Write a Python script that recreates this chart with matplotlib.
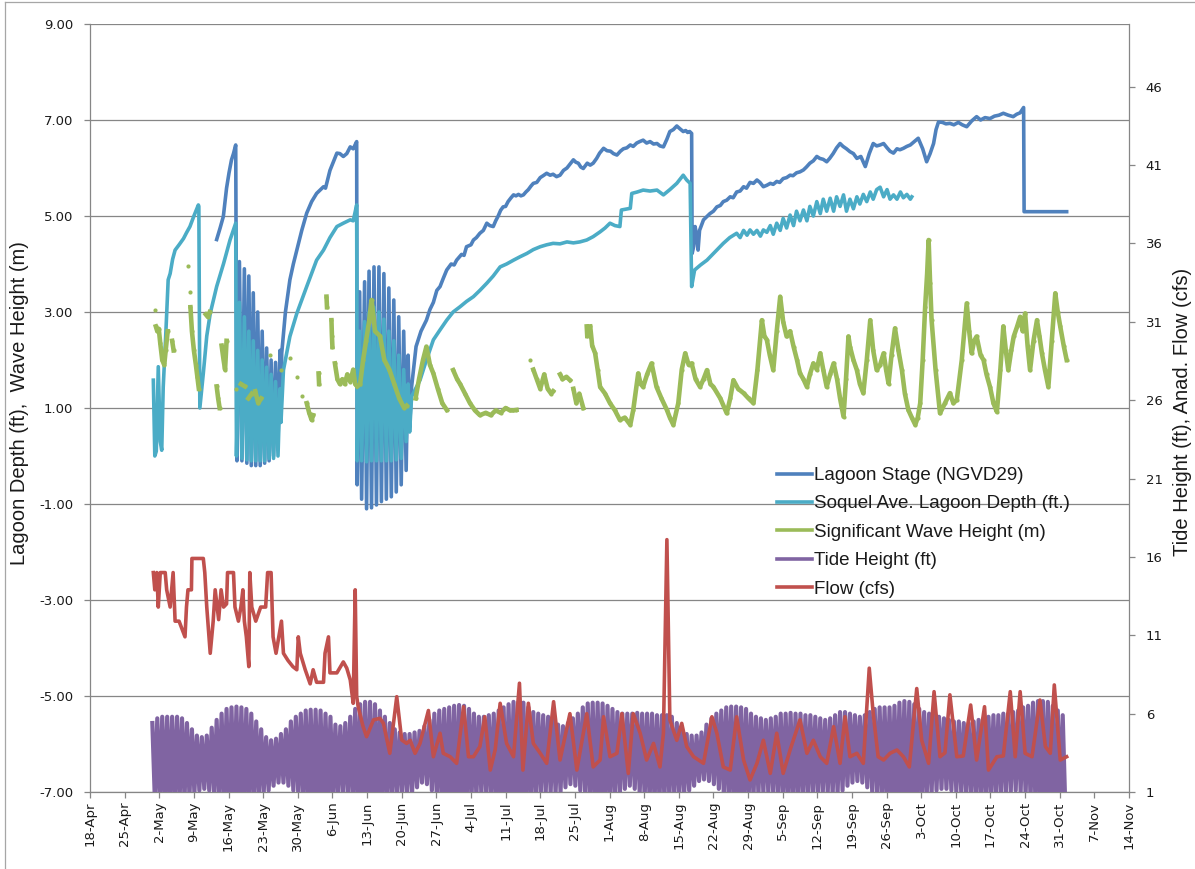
import numpy as np
import matplotlib
matplotlib.use("Agg")
import matplotlib.pyplot as plt
import matplotlib.dates as mdates
from matplotlib.ticker import FixedLocator, FuncFormatter
from matplotlib.lines import Line2D

# ---------------------------------------------------------------------------
# Data (times are days after START)
# ---------------------------------------------------------------------------
START = "2015-04-18"
AXIS_DAYS = 210

# Lagoon stage, ft NGVD29
stage_pts = [
    (25.6, 4.51), (26.3, 4.75), (26.95, 4.99), (27.6, 5.58), (28.1, 5.9), (28.6, 6.17),
    (29.0, 6.3), (29.45, 6.48),
    (29.7, -0.1), (30.2, 4.05), (30.7, -0.1), (31.2, 3.9), (31.7, -0.15), (32.1, 3.75),
    (32.6, -0.2), (33.0, 3.4), (33.5, -0.2), (33.9, 3.0), (34.4, -0.2), (34.8, 2.6),
    (35.3, -0.15), (35.7, 2.25), (36.2, -0.1), (36.6, 2.0), (37.1, 0.0), (37.5, 1.95),
    (38.0, 0.3), (38.4, 2.2), (38.6, 1.0),
    (38.75, 2.14), (39.5, 3.0), (40.4, 3.67), (41.1, 4.0), (41.8, 4.29), (42.8, 4.7),
    (43.8, 5.06), (44.8, 5.3), (45.8, 5.47), (47.2, 5.61), (47.6, 5.58), (48.5, 5.95),
    (49.9, 6.31), (50.5, 6.3), (51.2, 6.24), (51.9, 6.3), (52.6, 6.44), (53.2, 6.4),
    (53.9, 6.55),
    (54.0, -0.6), (54.5, 3.42), (54.9, -0.9), (55.5, 3.63), (55.9, -1.1), (56.4, 3.85),
    (56.9, -1.08), (57.4, 3.94), (57.9, -1.02), (58.4, 3.94), (58.9, -0.95), (59.4, 3.8),
    (59.9, -0.9), (60.4, 3.5), (60.9, -0.85), (61.4, 3.25), (61.9, -0.75), (62.4, 2.9),
    (62.9, -0.6), (63.4, 2.6), (63.9, -0.3), (64.3, 2.1), (64.6, 0.6),
    (65.0, 1.44), (65.9, 2.28), (66.9, 2.6), (68.0, 2.83), (68.7, 3.05), (69.4, 3.2),
    (70.1, 3.45), (70.75, 3.53), (71.4, 3.7), (72.1, 3.875), (73.0, 4.0), (73.6, 3.98),
    (74.1, 4.08), (75.1, 4.2), (75.6, 4.18), (76.1, 4.36), (77.0, 4.4), (77.5, 4.5),
    (78.1, 4.55), (78.8, 4.64), (79.5, 4.7), (80.2, 4.85), (80.8, 4.8), (81.5, 4.78),
    (82.0, 4.9), (82.5, 5.0), (83.0, 5.12), (83.5, 5.19), (84.0, 5.2), (84.5, 5.3),
    (85.1, 5.38), (85.6, 5.44), (86.1, 5.42), (86.6, 5.45), (87.1, 5.42), (87.6, 5.44),
    (88.1, 5.5), (88.6, 5.55), (89.1, 5.62), (89.6, 5.68), (90.3, 5.7), (91.0, 5.8),
    (91.6, 5.84), (92.3, 5.89), (93.0, 5.85), (93.6, 5.87), (94.3, 5.82), (95.0, 5.85),
    (95.7, 5.95), (96.4, 6.0), (97.0, 6.08), (97.7, 6.17), (98.2, 6.12), (98.7, 6.1),
    (99.2, 6.02), (99.7, 5.99), (100.5, 6.1), (101.1, 6.06), (101.7, 6.1), (102.4, 6.2),
    (103.0, 6.31), (103.8, 6.41), (104.5, 6.36), (105.2, 6.35), (105.8, 6.3), (106.5, 6.27),
    (107.2, 6.35), (107.8, 6.4), (108.5, 6.42), (109.2, 6.48), (109.8, 6.45), (110.5, 6.52),
    (111.1, 6.55), (111.8, 6.58), (112.5, 6.52), (113.2, 6.55), (113.9, 6.5), (114.6, 6.51),
    (115.2, 6.46), (115.9, 6.44), (116.6, 6.6), (117.2, 6.76), (117.9, 6.8), (118.6, 6.875),
    (119.2, 6.82), (119.9, 6.76), (120.4, 6.78), (120.8, 6.74), (121.2, 6.76), (121.6, 6.72),
    (121.7, 4.22), (122.0, 4.36), (122.3, 4.78), (122.6, 4.6), (122.9, 4.29), (123.2, 4.7),
    (124.0, 4.92), (124.6, 4.98), (125.3, 5.05), (126.0, 5.1), (126.7, 5.19), (127.4, 5.22),
    (128.0, 5.3), (128.7, 5.33), (129.4, 5.4), (130.0, 5.38), (130.7, 5.5), (131.4, 5.52),
    (132.1, 5.61), (132.7, 5.58), (133.4, 5.7), (134.1, 5.68), (134.8, 5.75), (135.4, 5.7),
    (136.1, 5.61), (136.8, 5.64), (137.5, 5.68), (138.1, 5.66), (138.8, 5.72), (139.4, 5.7),
    (140.1, 5.78), (140.8, 5.8), (141.5, 5.85), (142.1, 5.84), (142.8, 5.9), (143.5, 5.92),
    (144.2, 5.96), (144.8, 6.02), (145.5, 6.1), (146.2, 6.15), (146.9, 6.24), (147.5, 6.2),
    (148.2, 6.18), (148.9, 6.13), (149.5, 6.2), (150.2, 6.3), (150.9, 6.42), (151.6, 6.51),
    (152.2, 6.45), (152.9, 6.4), (153.6, 6.34), (154.3, 6.3), (155.0, 6.2), (155.8, 6.24),
    (156.7, 6.03), (157.5, 6.3), (158.3, 6.51), (159.0, 6.46), (159.7, 6.48), (160.4, 6.51),
    (161.1, 6.42), (161.7, 6.35), (162.4, 6.31), (163.1, 6.4), (163.7, 6.38), (164.4, 6.41),
    (165.1, 6.45), (165.8, 6.48), (166.6, 6.55), (167.4, 6.62), (168.3, 6.4), (169.1, 6.13),
    (169.8, 6.3), (170.5, 6.51), (171.0, 6.8), (171.5, 6.96), (172.3, 6.95), (173.0, 6.92),
    (173.8, 6.93), (174.6, 6.9), (175.5, 6.95), (176.3, 6.9), (177.2, 6.86), (178.2, 6.98),
    (179.2, 7.07), (180.0, 7.0), (180.9, 7.05), (181.9, 7.03), (182.8, 7.08), (183.7, 7.1),
    (184.6, 7.14), (185.6, 7.1), (186.6, 7.07), (187.3, 7.12), (188.0, 7.15), (188.7, 7.26),
    (188.8, 5.09), (197.4, 5.09),
]

# Soquel Ave. lagoon depth, ft
soquel_pts = [
    (12.8, 1.58), (13.1, 0.0), (13.4, 0.1), (13.8, 1.86), (14.2, 0.3), (14.5, 0.12),
    (14.8, 1.44), (15.3, 2.5), (15.8, 3.67), (16.2, 3.8), (16.7, 4.1), (17.2, 4.29),
    (18.0, 4.4), (18.9, 4.53), (19.5, 4.65), (20.2, 4.78), (21.0, 5.0), (21.9, 5.23),
    (22.0, 5.2), (22.2, 1.0), (22.9, 1.72), (23.6, 2.5), (24.3, 2.97), (25.6, 3.53),
    (27.0, 4.01), (28.3, 4.5), (29.45, 4.85),
    (29.6, 0.0), (30.2, 3.2), (30.7, -0.05), (31.2, 2.9), (31.7, -0.08), (32.1, 2.6),
    (32.6, -0.1), (33.0, 2.4), (33.5, -0.1), (33.9, 2.2), (34.4, -0.1), (34.8, 2.0),
    (35.3, -0.1), (35.7, 1.85), (36.2, -0.05), (36.6, 1.7), (37.1, -0.05), (37.5, 1.55),
    (38.0, 0.0), (38.4, 1.4), (38.6, 0.7),
    (39.1, 1.79), (40.4, 2.49), (41.8, 2.97), (43.8, 3.53), (45.8, 4.08), (47.2, 4.29),
    (48.5, 4.55), (49.9, 4.78), (51.2, 4.85), (52.6, 4.92), (53.2, 4.9), (53.9, 5.23),
    (54.0, -0.1), (54.5, 2.6), (54.9, -0.1), (55.5, 2.8), (55.9, -0.12), (56.4, 3.0),
    (56.9, -0.1), (57.4, 3.1), (57.9, -0.1), (58.4, 3.0), (58.9, -0.1), (59.4, 2.85),
    (59.9, -0.1), (60.4, 2.6), (60.9, -0.1), (61.4, 2.4), (61.9, -0.08), (62.4, 2.1),
    (62.9, -0.05), (63.4, 1.8), (63.9, 0.3), (64.3, 1.5), (64.6, 0.5),
    (65.0, 1.24), (66.7, 1.58), (68.0, 2.0), (69.4, 2.42), (70.7, 2.62), (72.1, 2.83),
    (73.4, 3.0), (74.8, 3.11), (76.1, 3.22), (77.5, 3.32), (78.8, 3.45), (80.2, 3.6),
    (81.5, 3.75), (82.9, 3.94), (84.2, 4.0), (85.6, 4.08), (86.9, 4.15), (88.3, 4.22),
    (89.6, 4.3), (91.0, 4.36), (92.3, 4.4), (93.6, 4.43), (95.0, 4.42), (96.4, 4.46),
    (97.7, 4.44), (99.0, 4.46), (100.4, 4.5), (101.7, 4.57), (103.1, 4.67), (104.1, 4.75),
    (105.1, 4.85), (106.1, 4.8), (107.1, 4.78),
    (107.4, 5.125), (109.2, 5.16), (109.5, 5.47), (110.6, 5.5), (111.8, 5.54), (113.2, 5.52),
    (114.6, 5.54), (115.9, 5.44), (117.2, 5.55), (118.6, 5.68), (119.9, 5.85), (120.6, 5.75),
    (121.3, 5.68),
    (121.6, 3.53), (122.2, 3.875), (123.4, 3.98), (124.7, 4.08), (126.3, 4.25), (128.0, 4.43),
    (129.3, 4.55),
    (130.7, 4.64), (131.4, 4.55), (132.1, 4.7), (132.8, 4.6), (133.4, 4.71), (134.1, 4.62),
    (134.8, 4.7), (135.5, 4.58), (136.1, 4.71), (136.8, 4.66), (137.5, 4.8), (138.1, 4.62),
    (138.8, 4.85), (139.5, 4.7), (140.1, 4.95), (140.8, 4.75), (141.5, 5.02), (142.2, 4.8),
    (142.8, 5.1), (143.5, 4.9), (144.2, 5.125), (144.9, 4.9), (145.5, 5.2), (146.2, 5.0),
    (146.9, 5.3), (147.6, 5.05), (148.2, 5.35), (148.9, 5.1), (149.6, 5.37), (150.3, 5.1),
    (150.9, 5.4), (151.6, 5.2), (152.3, 5.44), (152.9, 5.1), (153.6, 5.35), (154.3, 5.15),
    (155.0, 5.4), (155.6, 5.25), (156.3, 5.45), (157.0, 5.3), (157.7, 5.5), (158.3, 5.35),
    (159.0, 5.55), (159.7, 5.6), (160.4, 5.4), (161.1, 5.55), (161.7, 5.35), (162.4, 5.44),
    (163.1, 5.35), (163.8, 5.5), (164.4, 5.38), (165.1, 5.45), (165.8, 5.35), (166.1, 5.4),
]

# Significant wave height, m (gaps where the buoy record is missing)
wave_segments = [
    [(13.1, 3.04)],
    [(13.3, 2.7), (13.6, 2.6), (13.9, 2.65), (14.2, 2.35), (14.6, 2.0), (15.0, 1.9), (15.3, 2.2), (15.7, 2.6)],
    [(16.6, 2.4), (16.9, 2.2)],
    [(19.9, 3.96)],
    [(20.2, 3.42)],
    [(20.3, 3.1), (20.6, 2.6), (21.0, 2.2), (21.4, 1.9), (21.7, 1.65), (22.0, 1.4)],
    [(23.4, 2.95), (23.8, 2.9), (24.2, 3.0)],
    [(25.6, 1.45), (25.9, 1.2), (26.2, 1.0)],
    [(26.6, 2.3), (27.0, 2.0), (27.3, 1.8), (27.6, 2.4)],
    [(29.6, 1.4)], [(30.5, 1.5), (31.3, 1.45)], [(32.0, 1.2), (32.7, 1.3)],
    [(33.4, 1.35), (34.0, 1.1), (34.6, 1.2)],
    [(36.4, 2.1)], [(38.7, 1.79)], [(40.4, 2.04)], [(41.8, 1.65)], [(42.8, 1.24)],
    [(43.8, 1.1), (44.3, 0.9), (44.8, 0.75), (45.1, 0.85)],
    [(46.2, 1.72), (46.3, 1.5)],
    [(47.8, 3.32), (47.9, 3.1)],
    [(48.8, 2.83), (48.9, 2.5), (49.0, 2.27)],
    [(49.5, 1.93), (50.0, 1.6), (50.5, 1.5), (51.0, 1.6), (51.5, 1.5), (52.0, 1.7), (52.6, 1.55),
     (53.2, 1.8), (53.6, 1.5), (54.0, 1.45)],
    [(54.6, 1.5), (55.2, 2.0), (55.8, 2.4), (56.4, 2.8), (56.9, 3.25), (57.3, 2.9), (57.6, 2.6),
     (58.6, 2.5), (59.5, 2.0), (60.5, 1.8), (61.5, 1.5), (62.5, 1.2), (63.5, 1.0), (64.0, 1.05)],
    [(65.8, 1.2), (66.5, 1.6), (67.3, 2.0), (68.0, 2.28), (68.7, 1.9), (69.4, 1.72),
     (70.3, 1.4), (71.2, 1.1), (72.1, 0.96)],
    [(73.4, 1.79), (74.2, 1.6), (74.8, 1.5), (75.8, 1.3), (76.8, 1.1), (77.8, 0.95),
     (78.8, 0.85), (80.0, 0.9), (81.0, 0.85), (82.0, 0.95), (83.0, 0.9), (84.0, 1.0),
     (84.9, 0.95), (85.5, 0.95), (86.2, 0.96)],
    [(88.9, 2.0)],
    [(89.6, 1.8), (90.3, 1.6), (91.0, 1.4), (91.8, 1.7), (92.5, 1.4), (93.2, 1.3), (93.6, 1.35)],
    [(95.0, 1.7), (95.5, 1.6), (96.3, 1.65), (97.0, 1.58)],
    [(97.7, 1.4), (98.3, 1.1), (98.9, 1.3), (99.7, 1.0)],
    [(100.4, 2.7), (100.5, 2.5)],
    [(101.1, 2.7), (101.5, 2.3), (102.1, 2.14), (102.6, 1.8), (103.1, 1.44), (104.1, 1.3),
     (105.1, 1.1), (106.1, 0.95), (107.1, 0.75), (108.1, 0.8), (109.2, 0.65), (109.8, 0.96),
     (110.8, 1.72), (111.3, 1.5), (111.8, 1.44), (112.6, 1.7), (113.5, 1.93), (114.5, 1.44),
     (115.5, 1.2), (116.6, 0.96), (117.2, 0.8), (117.9, 0.65), (118.9, 1.1), (119.6, 1.8),
     (120.3, 2.14), (121.0, 1.9), (121.6, 1.93), (122.4, 1.6), (123.3, 1.44), (124.0, 1.6),
     (124.7, 1.79), (125.4, 1.5), (126.0, 1.44), (127.4, 1.2), (128.7, 0.89), (129.4, 1.2),
     (130.05, 1.58), (131.0, 1.4), (132.1, 1.31), (133.1, 1.2), (134.1, 1.1), (134.9, 1.8),
     (135.8, 2.83), (136.3, 2.5), (136.8, 2.42), (137.4, 2.1), (138.1, 1.79), (138.8, 2.6),
     (139.5, 3.32), (140.1, 2.8), (140.8, 2.49), (141.5, 2.6), (142.2, 2.28), (142.9, 2.0),
     (143.5, 1.72), (144.2, 1.6), (144.9, 1.44), (145.5, 1.7), (146.2, 1.93), (146.9, 1.8),
     (147.6, 2.14), (148.2, 1.8), (148.9, 1.44), (149.6, 1.7), (150.3, 1.93), (151.0, 1.6),
     (151.6, 1.2), (152.3, 0.82), (152.8, 1.6), (153.3, 2.49), (153.6, 2.28), (154.3, 2.0),
     (155.0, 1.79), (155.6, 1.5), (156.3, 1.31), (157.0, 2.0), (157.7, 2.83), (158.3, 2.2),
     (159.0, 1.79), (159.7, 1.9), (160.4, 2.14), (160.9, 1.8), (161.4, 1.51), (162.0, 2.1),
     (162.7, 2.66), (163.4, 2.2), (164.1, 1.79), (164.7, 1.3), (165.4, 0.96), (166.1, 0.8),
     (166.8, 0.65), (167.3, 0.8), (167.8, 1.1), (168.3, 2.0), (168.8, 3.11), (169.2, 3.8),
     (169.5, 4.5), (169.8, 3.6), (170.1, 2.83), (170.9, 1.8), (171.8, 0.89), (172.8, 1.1),
     (173.8, 1.31), (174.5, 1.1), (175.2, 1.17), (176.2, 2.0), (177.2, 3.18), (177.7, 2.6),
     (178.2, 2.14), (178.7, 2.4), (179.2, 2.49), (180.0, 2.1), (180.6, 2.0), (181.2, 1.7),
     (181.9, 1.44), (182.6, 1.1), (183.3, 0.92), (184.0, 1.8), (184.6, 2.7), (185.1, 2.2),
     (185.6, 1.79), (186.2, 2.2), (186.7, 2.49), (187.4, 2.7), (188.0, 2.9), (188.5, 2.6),
     (189.0, 2.97), (189.5, 2.3), (190.0, 1.79), (190.7, 2.4), (191.4, 2.83), (191.9, 2.5),
     (192.4, 2.14), (193.0, 1.8), (193.7, 1.44), (194.4, 2.4), (195.1, 3.39), (195.6, 3.0),
     (196.1, 2.7), (196.8, 2.3), (197.4, 2.0)],
]

# Tide height, ft: one higher-high and one lower-low per day
tide_first_day = 12.6
tide_high = [
    5.4, 5.7, 5.8, 5.8, 5.8, 5.8, 5.7, 5.4, 5.0, 4.6, 4.5, 4.6, 5.1, 5.6, 6.0, 6.3, 6.4, 6.45,
    6.4, 6.3, 6.0, 5.5, 5.0, 4.5, 4.3, 4.4, 4.7, 5.0, 5.5, 5.8, 6.0, 6.2, 6.25, 6.25, 6.2, 6.0,
    5.8, 5.3, 5.2, 5.4, 5.8, 6.3, 6.6, 6.75, 6.75, 6.6, 6.2, 5.8, 5.4, 5.0, 4.8, 4.7, 4.7, 4.8,
    4.9, 5.2, 5.6, 6.0, 6.2, 6.3, 6.4, 6.5, 6.55, 6.5, 6.3, 6.0, 5.8, 5.8, 5.9, 6.0, 6.2, 6.4,
    6.6, 6.75, 6.75, 6.7, 6.4, 6.1, 6.0, 5.9, 5.8, 5.6, 5.3, 5.2, 5.4, 5.7, 6.0, 6.4, 6.65, 6.7,
    6.7, 6.65, 6.5, 6.3, 6.1, 6.0, 6.0, 6.0, 6.05, 6.0, 6.0, 6.0, 5.9, 5.9, 5.9, 5.8, 5.4, 5.0,
    4.7, 4.6, 4.6, 4.8, 5.3, 5.7, 6.0, 6.2, 6.4, 6.45, 6.45, 6.4, 6.3, 6.0, 5.8, 5.7, 5.6, 5.7,
    5.8, 6.0, 6.0, 6.05, 6.0, 6.0, 5.9, 5.9, 5.8, 5.7, 5.6, 5.7, 5.9, 6.1, 6.1, 6.0, 5.9, 5.8,
    5.9, 6.1, 6.3, 6.4, 6.4, 6.4, 6.5, 6.7, 6.8, 6.75, 6.6, 6.3, 6.1, 6.0, 5.9, 5.8, 5.7, 5.6,
    5.5, 5.5, 5.4, 5.4, 5.5, 5.6, 5.7, 5.8, 5.9, 5.9, 6.0, 6.0, 6.1, 6.2, 6.4, 6.5, 6.7, 6.8,
    6.8, 6.75, 6.5, 6.2, 5.9,
]
tide_low = [
    0.6, 0.3, 0.2, 0.2, 0.3, 0.4, 0.5, 0.7, 0.9, 1.1, 1.2, 1.1, 0.8, 0.5, 0.2, 0.0, -0.1, -0.1,
    0.0, 0.2, 0.4, 0.7, 0.9, 1.1, 1.4, 1.6, 1.6, 1.4, 1.1, 0.8, 0.4, 0.1, -0.1, -0.2, -0.1, 0.1,
    0.4, 0.7, 0.9, 0.7, 0.4, 0.0, -0.3, -0.4, -0.4, -0.2, 0.1, 0.4, 0.6, 0.8, 0.9, 0.9, 1.0, 1.3,
    1.6, 1.5, 1.1, 0.6, 0.2, -0.1, -0.2, -0.2, -0.1, 0.1, 0.4, 0.6, 0.8, 0.7, 0.5, 0.2, 0.0, -0.2,
    -0.3, -0.3, -0.2, 0.0, 0.3, 0.6, 0.8, 0.9, 0.9, 0.9, 1.0, 1.3, 1.5, 1.4, 1.1, 0.7, 0.3, 0.0,
    -0.1, 0.0, 0.3, 0.6, 0.9, 1.2, 1.4, 1.2, 0.9, 0.6, 0.4, 0.3, 0.4, 0.5, 0.6, 0.7, 0.8, 0.9,
    1.1, 1.4, 1.7, 1.8, 1.7, 1.5, 1.2, 0.8, 0.4, 0.1, 0.0, 0.1, 0.3, 0.6, 0.8, 0.9, 0.9, 0.8,
    0.7, 0.5, 0.4, 0.4, 0.5, 0.6, 0.7, 0.8, 0.8, 0.9, 0.9, 0.8, 0.9, 1.1, 1.4, 1.6, 1.7, 1.6,
    1.3, 1.0, 0.7, 0.4, 0.2, 0.0, -0.1, -0.2, -0.3, -0.2, 0.0, 0.3, 0.6, 0.9, 1.1, 1.2, 1.2, 1.1,
    1.0, 0.9, 0.8, 0.7, 0.6, 0.5, 0.5, 0.6, 0.7, 0.8, 0.9, 1.0, 1.1, 1.0, 0.8, 0.5, 0.2, -0.1,
    -0.3, -0.3, -0.2, 0.0, 0.3,
]

# Anadromous flow, cfs
flow_pts = [
    (12.8, 15.0), (13.1, 13.9), (13.5, 15.0), (13.8, 12.8), (14.2, 15.0), (15.2, 15.0),
    (15.5, 13.9), (16.2, 12.8), (16.5, 13.9), (16.8, 15.0), (17.2, 11.9), (18.0, 11.9),
    (19.2, 10.9), (19.5, 12.8), (19.8, 13.9), (20.5, 13.9), (20.6, 15.9), (22.9, 15.9),
    (23.2, 15.0), (23.6, 12.8), (24.3, 9.85), (24.9, 11.9), (25.3, 13.9), (26.0, 12.0),
    (26.5, 13.9), (27.0, 12.8), (27.6, 13.0), (27.8, 15.0), (29.0, 15.0), (29.3, 12.8),
    (30.0, 11.9), (30.5, 12.8), (30.9, 13.9), (31.2, 11.9), (31.6, 10.9), (32.1, 9.0),
    (32.3, 15.0), (32.7, 12.8), (33.5, 11.9), (34.5, 12.8), (35.5, 12.8), (35.9, 15.0),
    (36.6, 15.0), (37.0, 10.9), (37.6, 9.85), (38.7, 11.9), (39.1, 9.85), (40.0, 9.4),
    (41.0, 9.0), (41.8, 8.8), (42.1, 10.9), (42.5, 9.85), (43.5, 8.8), (44.5, 7.9),
    (45.1, 8.8), (45.8, 8.0), (47.2, 8.0), (47.5, 9.85), (48.2, 10.9), (48.5, 8.6),
    (49.9, 8.6), (51.2, 9.3), (51.9, 8.9), (52.6, 8.15), (53.2, 6.66), (53.6, 13.9),
    (53.9, 7.1), (54.2, 6.44), (55.2, 5.17), (55.9, 4.53), (57.3, 5.6), (58.6, 5.7),
    (59.3, 5.38), (60.6, 3.47), (62.0, 7.08), (63.0, 4.32), (64.0, 4.1), (64.7, 4.3),
    (65.7, 3.47), (66.7, 4.1), (68.4, 6.2), (69.4, 3.25), (70.75, 4.75), (71.4, 3.47),
    (72.8, 3.25), (74.1, 2.83), (75.5, 6.44), (76.5, 3.25), (77.5, 3.25), (78.8, 3.9),
    (79.8, 5.8), (80.9, 2.4), (81.9, 3.7), (82.9, 6.66), (84.2, 4.1), (85.6, 3.25),
    (86.8, 7.94), (87.5, 2.4), (88.6, 6.66), (89.6, 4.1), (91.0, 3.47), (92.3, 2.83),
    (93.7, 6.76), (95.0, 3.04), (97.0, 6.0), (98.4, 2.4), (100.4, 6.0), (101.7, 2.6),
    (103.1, 3.04), (103.8, 5.8), (105.1, 3.25), (106.5, 3.47), (107.5, 6.0), (108.8, 2.19),
    (109.8, 6.0), (111.2, 4.75), (112.5, 3.04), (113.9, 4.1), (115.2, 2.6), (115.9, 4.75),
    (116.6, 17.1), (117.2, 5.6), (118.6, 4.3), (119.6, 5.38), (120.6, 3.9), (122.0, 3.25),
    (124.0, 2.83), (125.7, 5.8), (126.7, 4.75), (128.0, 2.6), (129.4, 2.4), (130.7, 5.8),
    (132.1, 3.04), (133.4, 1.77), (134.8, 2.83), (136.1, 4.3), (137.5, 2.19), (138.8, 4.75),
    (140.1, 2.19), (141.5, 3.68), (143.5, 5.6), (144.9, 3.47), (146.2, 4.3), (147.6, 3.25),
    (148.9, 2.83), (150.3, 5.17), (151.6, 2.83), (152.6, 5.8), (153.6, 3.25), (155.0, 3.47),
    (156.3, 2.83), (157.5, 8.9), (158.3, 6.0), (159.3, 3.25), (160.4, 3.04), (161.7, 3.47),
    (163.1, 3.68), (164.4, 3.25), (165.6, 2.6), (167.1, 7.6), (168.1, 4.3), (169.5, 2.83),
    (170.6, 7.4), (171.8, 3.25), (172.8, 3.5), (173.8, 7.2), (175.2, 3.25), (176.5, 3.3),
    (178.0, 6.55), (179.2, 3.04), (180.8, 6.44), (181.6, 2.4), (183.3, 3.25), (184.6, 3.3),
    (186.0, 7.4), (187.0, 3.25), (188.0, 7.4), (189.0, 3.47), (190.4, 3.25), (192.0, 6.87),
    (193.1, 3.9), (194.1, 3.47), (194.9, 7.83), (196.1, 3.04), (197.4, 3.25),
]

left_ticks = [-7, -5, -3, -1, 1, 3, 5, 7, 9]
right_ticks = [1, 6, 11, 16, 21, 26, 31, 36, 41, 46]
right_limits = (1, 50)

series_names = ["Lagoon Stage (NGVD29)", "Soquel Ave. Lagoon Depth (ft.)",
                "Significant Wave Height (m)", "Tide Height (ft)", "Flow (cfs)"]
series_colors = ["#4F81BD", "#4BACC6", "#9BBB59", "#8064A2", "#C0504D"]

# ---------------------------------------------------------------------------
# Helpers
# ---------------------------------------------------------------------------
t0 = mdates.datestr2num(START)


def to_xy(points):
    arr = np.array(points, dtype=float)
    return t0 + arr[:, 0], arr[:, 1]


def segments_to_xy(segments):
    xs, ys = [], []
    for seg in segments:
        x, y = to_xy(seg)
        xs.extend(list(x) + [np.nan])
        ys.extend(list(y) + [np.nan])
    return np.array(xs), np.array(ys)


n_tide = min(len(tide_high), len(tide_low))
tide_t = np.empty(2 * n_tide)
tide_v = np.empty(2 * n_tide)
tide_t[0::2] = tide_first_day + np.arange(n_tide)
tide_t[1::2] = tide_first_day + np.arange(n_tide) + 0.5
tide_v[0::2] = tide_high[:n_tide]
tide_v[1::2] = tide_low[:n_tide]
tide_t = t0 + tide_t

# ---------------------------------------------------------------------------
# Figure
# ---------------------------------------------------------------------------
W, H = 1195, 869
fig = plt.figure(figsize=(W / 100, H / 100), dpi=100)
fig.patch.set_facecolor("white")

L, R, T, B = 90, 1129, 24, 792
ax = fig.add_axes([L / W, 1 - B / H, (R - L) / W, (B - T) / H])
ax2 = ax.twinx()

grid_c = "#868686"
text_c = "#1a1a1a"
tick_family = "DejaVu Sans"
tick_size = 9.5
title_font = ["Liberation Sans", "DejaVu Sans"]

# primary axis series
x, y = to_xy(stage_pts)
ax.plot(x, y, color=series_colors[0], lw=2.6, zorder=3, solid_joinstyle="round")
x, y = to_xy(soquel_pts)
ax.plot(x, y, color=series_colors[1], lw=2.6, zorder=4, solid_joinstyle="round")
x, y = segments_to_xy(wave_segments)
ax.plot(x, y, color=series_colors[2], lw=3.3, zorder=5, marker="o", ms=3.0,
        markeredgewidth=0, solid_joinstyle="round")

# secondary axis series
ax2.plot(tide_t, tide_v, color=series_colors[3], lw=3.0, zorder=3)
x, y = to_xy(flow_pts)
ax2.plot(x, y, color=series_colors[4], lw=2.6, zorder=4, solid_joinstyle="round")

# axes ranges and ticks
ax.set_xlim(t0, t0 + AXIS_DAYS)
ax.set_ylim(left_ticks[0], left_ticks[-1])
ax2.set_ylim(*right_limits)

ax.yaxis.set_major_locator(FixedLocator(left_ticks))
ax.yaxis.set_major_formatter(FuncFormatter(lambda v, p: f"{v:.2f}"))
ax2.yaxis.set_major_locator(FixedLocator(right_ticks))
ax2.yaxis.set_major_formatter(FuncFormatter(lambda v, p: f"{v:.0f}"))

xt = t0 + np.arange(0, AXIS_DAYS + 1, 7)
ax.xaxis.set_major_locator(FixedLocator(xt))


def date_label(v, pos):
    d = mdates.num2date(v)
    return f"{d.day}-{d.strftime('%b')}"


ax.xaxis.set_major_formatter(FuncFormatter(date_label))

ax.grid(axis="y", color=grid_c, lw=0.9)
ax.set_axisbelow(True)

for a in (ax, ax2):
    for s in a.spines.values():
        s.set_color(grid_c)
        s.set_linewidth(0.9)
    a.spines["top"].set_visible(False)
ax.spines["right"].set_visible(False)
ax2.spines["left"].set_visible(False)
ax2.spines["bottom"].set_visible(False)

ax.tick_params(axis="y", direction="out", length=4, width=0.9, color=grid_c,
               labelsize=tick_size, labelcolor=text_c, pad=8)
ax.tick_params(axis="x", direction="out", length=4, width=0.9, color=grid_c,
               labelsize=tick_size, labelcolor=text_c, pad=3, labelrotation=90)
ax2.tick_params(axis="y", direction="out", length=4, width=0.9, color=grid_c,
                labelsize=tick_size, labelcolor=text_c, pad=8)
for lab in ax.get_xticklabels() + ax.get_yticklabels() + ax2.get_yticklabels():
    lab.set_family(tick_family)

# axis titles
fig.text(20 / W, 1 - 403 / H, "Lagoon Depth (ft),  Wave Height (m)", rotation=90,
         ha="center", va="center", family=title_font, fontsize=14.5, color=text_c)
fig.text(1182 / W, 1 - 412 / H, "Tide Height (ft), Anad. Flow (cfs)", rotation=90,
         ha="center", va="center", family=title_font, fontsize=14.5, color=text_c)

# legend
handles = [Line2D([0], [0], color=c, lw=2.6) for c in series_colors]
leg = fig.legend(handles, series_names, loc="upper left",
                 bbox_to_anchor=(777 / W, 1 - 467 / H), frameon=False,
                 prop={"family": title_font, "size": 13.5}, handlelength=1.85,
                 handletextpad=0.15, labelspacing=0.6, borderpad=0, borderaxespad=0)
for t in leg.get_texts():
    t.set_color(text_c)

# chart border
fig.add_artist(Line2D([5 / W, 5 / W], [0, 1 - 2 / H], transform=fig.transFigure,
                      color="#a6a6a6", lw=0.9))
fig.add_artist(Line2D([5 / W, 1], [1 - 2 / H, 1 - 2 / H], transform=fig.transFigure,
                      color="#a6a6a6", lw=0.9))

fig.savefig("out.png", dpi=100, facecolor="white")
